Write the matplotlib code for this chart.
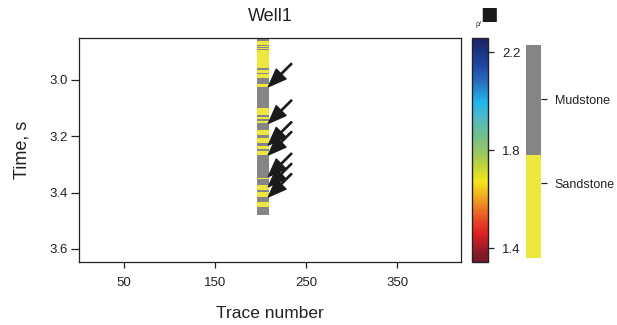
import numpy as np
import matplotlib
matplotlib.use("Agg")
import matplotlib.pyplot as plt
from matplotlib.colors import ListedColormap, LinearSegmentedColormap, Normalize
from matplotlib.cm import ScalarMappable

plt.rcParams["font.family"] = ["Liberation Sans", "DejaVu Sans"]

# Lithology log of Well1: interval boundaries (s) and facies per interval
# (0 = sandstone, 1 = mudstone)
boundaries = [2.852, 2.8615, 2.8675, 2.870, 2.8757, 2.879, 2.884, 2.887, 2.891,
              2.8945, 2.958, 2.964, 2.974, 2.980, 2.994, 3.014, 3.024, 3.100,
              3.124, 3.132, 3.139, 3.146, 3.152, 3.178, 3.195, 3.207, 3.222,
              3.236, 3.246, 3.251, 3.266, 3.348, 3.352, 3.373, 3.391, 3.398,
              3.416, 3.433, 3.451, 3.480]
facies = [1, 0, 1, 0, 1, 0, 1, 0, 1, 0, 1, 0, 1, 0, 1, 0, 1, 0, 1, 0, 1, 0, 1,
          0, 1, 0, 1, 0, 1, 0, 1, 0, 1, 0, 1, 0, 1, 0, 1]
well_traces = [196, 209]
arrow_times = [3.024, 3.154, 3.231, 3.266, 3.343, 3.379, 3.415]

facies_names = ["Sandstone", "Mudstone"]
facies_colors = ["#EDE73F", "#858585"]

density_ticks = [1.4, 1.8, 2.2]
density_range = [1.345, 2.257]
x_ticks = [50, 150, 250, 350]
y_ticks = [3.0, 3.2, 3.4, 3.6]

fig = plt.figure(figsize=(6.17, 3.25), dpi=100)
ax = fig.add_axes([0.128, 0.194, 0.619, 0.689])

cmap_facies = ListedColormap(facies_colors)
C = np.array(facies, dtype=float).reshape(-1, 1)
ax.pcolormesh(well_traces, boundaries, C, cmap=cmap_facies, vmin=-0.5, vmax=1.5,
              shading="flat")

for t in arrow_times:
    ax.annotate("", xy=(well_traces[1] - 0.5, t), xytext=(well_traces[1] + 25, t - 0.082),
                arrowprops=dict(facecolor="#1a1a1a", edgecolor="#1a1a1a", width=0.9,
                                headwidth=10, headlength=13, shrink=0))

ax.set_xlim(0.5, 420)
ax.set_ylim(3.646, 2.851)
ax.set_xticks(x_ticks)
ax.set_yticks(y_ticks)
ax.set_yticklabels([f"{v:.1f}" for v in y_ticks])
ax.tick_params(axis="both", labelsize=9.5, colors="#222222", width=0.9)
ax.tick_params(axis="y", length=6, pad=2)
ax.tick_params(axis="x", length=4, pad=7)
for s in ax.spines.values():
    s.set_color("#222222")
    s.set_linewidth(0.9)
ax.set_title("Well1", fontsize=13, color="#222222", pad=12)
ax.set_xlabel("Trace number", fontsize=12.5, color="#222222", labelpad=12)
ax.set_ylabel("Time, s", fontsize=13, color="#222222", labelpad=14)

# Density colour bar
stops = [(0.0, (0.47, 0.09, 0.15)), (0.031, (0.51, 0.10, 0.16)), (0.12, (0.86, 0.12, 0.14)),
         (0.18, (0.91, 0.27, 0.14)), (0.269, (0.94, 0.59, 0.12)), (0.359, (0.96, 0.90, 0.12)),
         (0.419, (0.78, 0.84, 0.20)), (0.492, (0.59, 0.78, 0.39)), (0.567, (0.43, 0.75, 0.55)),
         (0.644, (0.31, 0.73, 0.78)), (0.716, (0.12, 0.71, 0.92)), (0.806, (0.16, 0.43, 0.75)),
         (0.883, (0.12, 0.27, 0.63)), (1.0, (0.10, 0.14, 0.39))]
cmap_rho = LinearSegmentedColormap.from_list("rho", stops)
cax = fig.add_axes([0.7645, 0.1948, 0.0269, 0.687])
sm = ScalarMappable(norm=Normalize(*density_range), cmap=cmap_rho)
cb = fig.colorbar(sm, cax=cax, ticks=density_ticks)
cb.ax.set_yticklabels([f"{v:.1f}" for v in density_ticks])
cb.ax.tick_params(labelsize=9.5, length=4, width=0.9, colors="#222222", pad=6)
cb.outline.set_edgecolor("#222222")
cb.outline.set_linewidth(1.0)
fig.text(0.7705, 0.925, "\u03c1/", fontsize=5, color="#222222", ha="left", va="center")
fig.text(0.792, 0.952, "\u25a0", fontsize=21, color="#1a1a1a", ha="center", va="center")

# Lithology legend bar
lax = fig.add_axes([0.8525, 0.2052, 0.0243, 0.6563])
split = 0.484
lax.bar(0.5, split, width=1, bottom=0, color=facies_colors[0])
lax.bar(0.5, 1 - split, width=1, bottom=split, color=facies_colors[1])
lax.set_xlim(0, 1)
lax.set_ylim(0, 1)
lax.set_xticks([])
lax.yaxis.tick_right()
lax.set_yticks([0.352, 0.745])
lax.set_yticklabels(facies_names)
lax.tick_params(axis="y", labelsize=9, length=4, width=0.9, colors="#222222", pad=6)
for s in lax.spines.values():
    s.set_visible(False)

fig.savefig("out.png", dpi=100)
